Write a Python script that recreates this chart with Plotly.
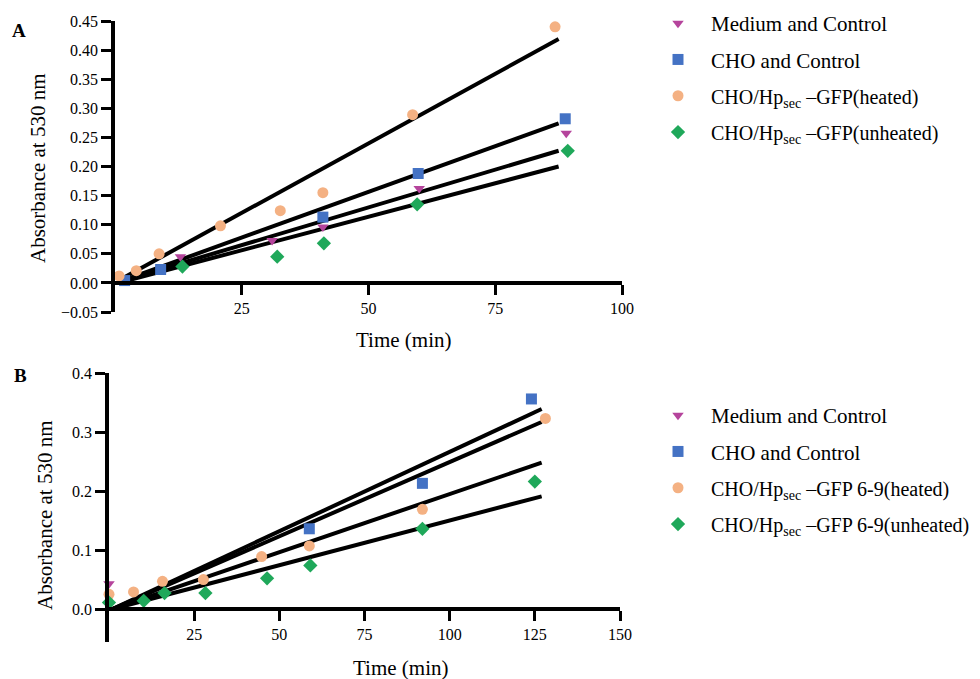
import plotly.graph_objects as go

W, H = 980, 679

# ---------------- data: panel A ----------------
a_medium_x = [12.9, 31, 41, 60, 89]
a_medium_y = [0.045, 0.073, 0.096, 0.162, 0.257]
a_cho_x = [1.9, 9, 41, 59.8, 88.8]
a_cho_y = [0.004, 0.023, 0.113, 0.188, 0.282]
a_heat_x = [0.8, 4.2, 8.7, 20.8, 32.6, 41, 58.7, 86.8]
a_heat_y = [0.012, 0.021, 0.050, 0.098, 0.124, 0.155, 0.289, 0.440]
a_unheat_x = [13.3, 32, 41.2, 59.6, 89.3]
a_unheat_y = [0.028, 0.045, 0.068, 0.135, 0.227]
# fitted lines (start / end)
a_fit_x = [1.5, 87.5]
a_fit_heat = [0.008, 0.419]
a_fit_cho = [0.004, 0.274]
a_fit_medium = [0.004, 0.227]
a_fit_unheat = [0.002, 0.200]

# ---------------- data: panel B ----------------
b_medium_x = [0]
b_medium_y = [0.043]
b_cho_x = [58.8, 92, 124]
b_cho_y = [0.136, 0.213, 0.356]
b_heat_x = [0, 7.2, 15.7, 27.7, 44.8, 58.8, 92, 128.1]
b_heat_y = [0.025, 0.029, 0.047, 0.050, 0.089, 0.107, 0.169, 0.323]
b_unheat_x = [0, 10.2, 16.3, 28.3, 46.4, 59.1, 92, 125]
b_unheat_y = [0.011, 0.014, 0.027, 0.027, 0.052, 0.074, 0.136, 0.216]
b_fit_x = [1, 127]
b_fit_cho = [0.0, 0.339]
b_fit_heat = [0.0, 0.317]
b_fit_medium = [0.0, 0.248]
b_fit_unheat = [0.0, 0.191]

a_yticks = [-0.05, 0.0, 0.05, 0.10, 0.15, 0.20, 0.25, 0.30, 0.35, 0.40, 0.45]
a_xticks = [25, 50, 75, 100]
b_yticks = [0.0, 0.1, 0.2, 0.3, 0.4]
b_xticks = [25, 50, 75, 100, 125, 150]

names_a = ["Medium and Control", "CHO and Control",
           "<span style='font-size:20px'>CHO/Hp<sub>sec</sub> –GFP(heated)</span>",
           "<span style='font-size:20px'>CHO/Hp<sub>sec</sub> –GFP(unheated)</span>"]
names_b = ["Medium and Control", "CHO and Control",
           "<span style='font-size:20px'>CHO/Hp<sub>sec</sub> –GFP 6-9(heated)</span>",
           "<span style='font-size:20px'>CHO/Hp<sub>sec</sub> –GFP 6-9(unheated)</span>"]

C_MED = "#B5449C"
C_CHO = "#4472C4"
C_HEAT = "#F4B183"
C_UNH = "#1FA85A"
styles = [("triangle-down", 10, C_MED), ("square", 11, C_CHO),
          ("circle", 11, C_HEAT), ("diamond", 11, C_UNH)]

FONT = "Liberation Serif"

fig = go.Figure()

def add_panel(xa, ya, legend, fits_x, fits, pts, names, gid):
    for f in fits:
        fig.add_trace(go.Scatter(x=fits_x, y=f, mode="lines",
                                 line=dict(color="black", width=4),
                                 xaxis=xa, yaxis=ya, showlegend=False,
                                 hoverinfo="skip"))
    for i, ((px, py), (sym, sz, col), nm) in enumerate(zip(pts, styles, names)):
        fig.add_trace(go.Scatter(x=px, y=py, mode="markers", name=nm,
                                 marker=dict(symbol=sym, size=sz, color=col,
                                             line=dict(width=0)),
                                 cliponaxis=False, xaxis=xa, yaxis=ya,
                                 legend=legend, legendgroup=f"{gid}{i}"))

add_panel("x", "y", "legend", a_fit_x,
          [a_fit_heat, a_fit_cho, a_fit_medium, a_fit_unheat],
          [(a_medium_x, a_medium_y), (a_cho_x, a_cho_y),
           (a_heat_x, a_heat_y), (a_unheat_x, a_unheat_y)], names_a, "a")
add_panel("x2", "y2", "legend2", b_fit_x,
          [b_fit_cho, b_fit_heat, b_fit_medium, b_fit_unheat],
          [(b_medium_x, b_medium_y), (b_cho_x, b_cho_y),
           (b_heat_x, b_heat_y), (b_unheat_x, b_unheat_y)], names_b, "b")

# domains in paper units (pixel based)
ax_dom = [115 / W, 622 / W]
ay_dom = [1 - 312 / H, 1 - 21 / H]
ay_rng = [-0.05, 0.45]
bx_dom = [109 / W, 620 / W]
by_dom = [1 - 641.5 / H, 1 - 373 / H]
by_rng = [-0.055, 0.4]

def zero_pos(dom, rng):
    return dom[0] + (0 - rng[0]) / (rng[1] - rng[0]) * (dom[1] - dom[0])

axis_common = dict(showline=True, linecolor="black", linewidth=3.5,
                   ticks="outside", ticklen=10, tickwidth=3, tickcolor="black",
                   showgrid=False, zeroline=False,
                   tickfont=dict(family=FONT, size=16, color="black"))

fig.update_layout(
    width=W, height=H, margin=dict(l=0, r=0, t=0, b=0, autoexpand=False),
    paper_bgcolor="white", plot_bgcolor="white",
    font=dict(family=FONT, color="black"),
    xaxis=dict(domain=ax_dom, range=[0, 100], tickvals=a_xticks,
               anchor="free", position=zero_pos(ay_dom, ay_rng), **axis_common),
    yaxis=dict(domain=ay_dom, range=ay_rng, tickvals=a_yticks,
               tickformat=".2f", anchor="x", **axis_common),
    xaxis2=dict(domain=bx_dom, range=[0, 150], tickvals=b_xticks,
                anchor="free", position=zero_pos(by_dom, by_rng), **axis_common),
    yaxis2=dict(domain=by_dom, range=by_rng, tickvals=b_yticks,
                tickformat=".1f", anchor="x2", **axis_common),
    legend=dict(x=645 / W, y=1 - 3 / H, xanchor="left", yanchor="top",
                font=dict(family=FONT, size=21, color="black"),
                itemwidth=56, tracegroupgap=6, bgcolor="rgba(0,0,0,0)"),
    legend2=dict(x=645 / W, y=1 - 395 / H, xanchor="left", yanchor="top",
                 font=dict(family=FONT, size=21, color="black"),
                 itemwidth=56, tracegroupgap=6, bgcolor="rgba(0,0,0,0)"),
    showlegend=True,
)

ann = [
    dict(text="<b>A</b>", x=19 / W, y=1 - 31 / H, font=dict(size=19)),
    dict(text="<b>B</b>", x=20 / W, y=1 - 375 / H, font=dict(size=19)),
    dict(text="Absorbance at 530 nm", x=38 / W, y=1 - 168 / H, textangle=-90,
         font=dict(size=21)),
    dict(text="Absorbance at 530 nm", x=45 / W, y=1 - 515 / H, textangle=-90,
         font=dict(size=21)),
    dict(text="Time (min)", x=403 / W, y=1 - 340 / H, font=dict(size=21)),
    dict(text="Time (min)", x=400 / W, y=1 - 668 / H, font=dict(size=21)),
]
for a in ann:
    a.update(xref="paper", yref="paper", showarrow=False,
             xanchor="center", yanchor="middle")
    a["font"].update(family=FONT, color="black")
fig.update_layout(annotations=ann)

fig.write_html("out.html",
               config={"displayModeBar": False},
               post_script="document.body.style.margin='0';"
                           "document.body.style.overflow='hidden';")
